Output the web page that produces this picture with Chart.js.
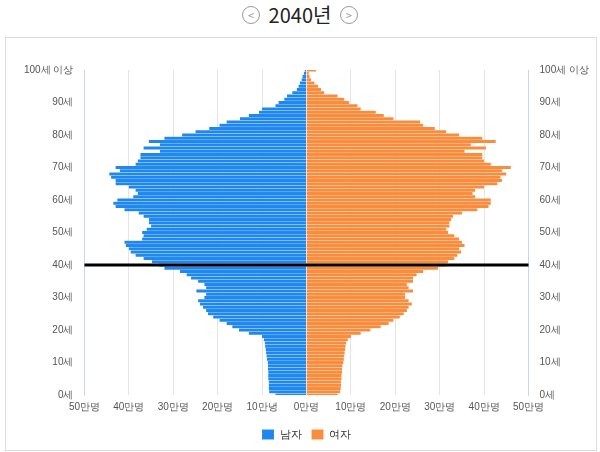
<!DOCTYPE html>
<html><head><meta charset="utf-8">
<script src="https://cdn.jsdelivr.net/npm/chart.js@4"></script>
<style>
body{margin:0;background:#fff;font-family:"Noto Sans CJK KR","Noto Sans",sans-serif;}
#title{position:absolute;left:0;top:0;width:600px;height:32px;text-align:center;font-size:20px;line-height:30px;color:#222;}
#title span.arr{display:inline-block;width:16px;height:16px;border:1.5px solid #999;border-radius:50%;color:#999;font-size:11px;line-height:16px;vertical-align:3px;margin:0 4px;}
#box{position:absolute;left:5px;top:37px;width:592px;height:414px;border:1px solid #ddd;box-sizing:border-box;}
</style></head><body>
<div id="title"><span class="arr">&lt;</span> 2040년 <span class="arr">&gt;</span></div>
<div id="box"><canvas id="c" width="590" height="412"></canvas></div>
<script>
const ages=[];for(let i=0;i<=100;i++)ages.push(i);
const ageLabels=ages.map(a=>a===100?'100세 이상':a+'세');
// values in 만명, index = age 0..100
const male=[7,8.4,8.5,8.5,8.5,8.6,8.6,8.6,8.7,8.7,8.7,8.9,9,9.1,9.2,9.3,9.4,9.6,10,13,15.2,16.7,18,19.6,21,22.2,22.6,23.3,24,24.4,23,22.6,24.8,22.6,23,24.4,26,27,28.5,32,33.3,34.8,36.7,38.5,39.6,40,40.7,41,37,36.7,37,36,35,35.5,35.5,36.7,37.8,41,43,43.5,42.6,39,38,38.5,40,43,43,44,44.4,42,43,38.5,38,37.4,37.4,33,36.7,33,35.5,32,28,25,21.9,19.6,18,15,13,10.7,10,7,6.3,5,4.4,3.2,2.2,1.8,1.5,1.1,0.9,0.6,0.4];
const female=[7,7.6,7.7,7.8,7.8,7.9,7.9,8,8,8.1,8.3,8.4,8.5,8.6,8.7,8.8,8.9,9.3,10,12.2,14.4,16.7,18.5,19.6,21,21.9,22.6,23,23.7,23,22.2,22.2,24,23,22.6,24,24,24.8,26.3,29.6,31.5,31.9,33.3,34,34.8,34.4,35.6,35,34.4,33.3,31.9,31.5,32.2,32.2,32.6,33,35,38.5,41,41.5,41.5,38,37.4,38,40,43,44,43.7,45,44,46,41.5,40,39.6,39.6,35.6,40.4,37,42.6,39.6,34.4,31.5,28.9,26.3,25.6,19.6,17.4,15.6,12.2,11.5,9.6,8.5,7,4,3.3,2.6,1.8,1,0.7,0.5,2.2];
const xTicks=[-50,-40,-30,-20,-10,0,10,20,30,40,50];
const refAge=40;
const lineAt={id:'lineAt',afterDatasetsDraw(ch){const y=ch.scales.y.getPixelForValue(ages.indexOf(refAge));const c=ch.ctx;c.save();c.strokeStyle='#000';c.lineWidth=3;c.beginPath();c.moveTo(ch.chartArea.left,y);c.lineTo(ch.chartArea.right,y);c.stroke();c.restore();}};
const tk=(v,i)=>{const a=ages[i];return a%10===0?ageLabels[i]:null;};
new Chart(document.getElementById('c'),{type:'bar',
data:{labels:ageLabels,datasets:[
{label:'남자',data:male.map(v=>-v),backgroundColor:'#1e88f0',borderColor:'rgba(255,255,255,0.35)',borderWidth:{top:0.5,bottom:0.5},barPercentage:1,categoryPercentage:1,yAxisID:'y'},
{label:'여자',data:female,backgroundColor:'#fa8c3c',borderColor:'rgba(255,255,255,0.35)',borderWidth:{top:0.5,bottom:0.5},barPercentage:1,categoryPercentage:1,yAxisID:'y'}]},
options:{indexAxis:'y',responsive:false,animation:false,
layout:{padding:{top:32,left:15,right:4,bottom:0}},
plugins:{legend:{position:'bottom',labels:{boxWidth:12,boxHeight:10,font:{size:11},color:'#333',padding:10}},tooltip:{enabled:false}},
scales:{
x:{stacked:true,min:-50,max:50,afterBuildTicks(a){a.ticks=xTicks.map(v=>({value:v}));},
ticks:{font:{size:10},color:'#555',padding:6,callback:v=>v===0?'0만명':(Math.abs(v)+'만'+(v===-10?'녕':'명'))},
grid:{color:'#e4e4e4',drawTicks:false},border:{display:false}},
y:{stacked:true,reverse:true,offset:false,position:'left',ticks:{autoSkip:false,font:{size:10},color:'#555',callback:tk},grid:{display:false},border:{color:'#ccd6e0'}},
y2:{type:'category',labels:ageLabels,reverse:true,offset:false,position:'right',ticks:{autoSkip:false,font:{size:10},color:'#555',callback:tk},grid:{display:false},border:{color:'#ccd6e0'}}
}},plugins:[lineAt]});
</script></body></html>
